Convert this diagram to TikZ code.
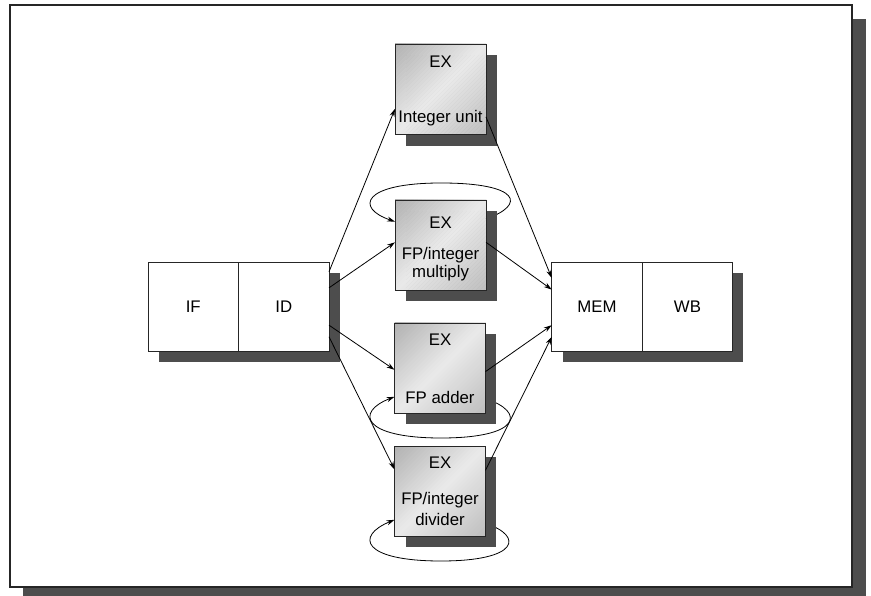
\documentclass[tikz,border=0pt]{standalone}
\usepackage{fontspec}
\setmainfont{Liberation Sans}
\usetikzlibrary{arrows.meta,calc}
\definecolor{shadowgray}{HTML}{4D4D4D}
\definecolor{exdark}{HTML}{B0B0B0}
\definecolor{exdarkb}{HTML}{BEBEBE}
\definecolor{exlight}{HTML}{EAEAEA}
\newcommand\exgrad[1]{%
  \begin{scope}
  \clip (#1.north west) rectangle (#1.south east);
  \foreach \k in {-23,...,22}{%
    \pgfmathsetmacro\uA{2*\k}%
    \pgfmathsetmacro\uB{2*\k+2.3}%
    \pgfmathsetmacro\m{int(100*(1-abs(\k+0.5)/23))}%
    \ifnum\k<0 \def\cc{exlight!\m!exdark}\else\def\cc{exlight!\m!exdarkb}\fi
    \fill[color=\cc] ($(#1.center)+(\uA+100,\uA-100)$) -- ($(#1.center)+(\uA-100,\uA+100)$)
       -- ($(#1.center)+(\uB-100,\uB+100)$) -- ($(#1.center)+(\uB+100,\uB-100)$) -- cycle;
  }
  \end{scope}
  \draw[black!85,line width=0.9pt] (#1.north west) rectangle (#1.south east);}
\begin{document}
\begin{tikzpicture}[x=1pt,y=-1pt,
  stage/.style={draw=black!85,line width=0.9pt,fill=white,minimum width=90.5pt,minimum height=89pt,inner sep=0pt,outer sep=0pt},
  exbox/.style={draw=none,minimum width=91pt,minimum height=90pt,inner sep=0pt,outer sep=0pt},
  lbl/.style={font=\fontsize{16.8}{19}\selectfont,inner sep=0pt,anchor=center},
  conn/.style={line width=0.8pt,-{Stealth[length=8pt,width=5pt]}},
  loop/.style={line width=0.8pt,-{Stealth[length=8pt,width=5pt]}}
]
\useasboundingbox (0,0) rectangle (871,596);
% frame
\fill[shadowgray] (23,19) rectangle (866,596);
\draw[fill=white,line width=1.6pt,draw=black!85] (10,5) rectangle (852,587);

% shadows
\fill[shadowgray] (406,55) rectangle (497,146);
\fill[shadowgray] (406,211) rectangle (497,301);
\fill[shadowgray] (406,334) rectangle (496,424);
\fill[shadowgray] (406,457) rectangle (496,547);
\fill[shadowgray] (159,273) rectangle (340,362);
\fill[shadowgray] (563,273) rectangle (743,362);

% stages
\node[stage] (IF) at (193.25,306.5) {};
\node[stage] (ID) at (283.75,306.5) {};
\node[stage] (MEM) at (597,306.5) {};
\node[stage] (WB) at (687.5,306.5) {};
\node[lbl] (tIF) at (IF) {IF};
\node[lbl] (tID) at (ID) {ID};
\node[lbl] (tMEM) at (MEM) {MEM};
\node[lbl] (tWB) at (WB) {WB};

% EX boxes
\node[exbox] (EXi) at (440.5,89) {};
\node[exbox] (EXm) at (440.5,245) {};
\node[exbox] (EXa) at (440,368) {};
\node[exbox] (EXd) at (440,491) {};
\exgrad{EXi}
\exgrad{EXm}
\exgrad{EXa}
\exgrad{EXd}

\node[lbl] (tEXi) at (440.5,62) {EX};
\node[lbl] (tIU) at (440.5,118) {Integer unit};
\node[lbl] (tEXm) at (440.5,223) {EX};
\node[lbl] (tM1) at (440.5,255) {FP/integer};
\node[lbl] (tM2) at (440.5,273) {multiply};
\node[lbl] (tEXa) at (440,340) {EX};
\node[lbl] (tA1) at (440,397) {FP adder};
\node[lbl] (tEXd) at (440,463) {EX};
\node[lbl] (tD1) at (440,500) {FP/integer};
\node[lbl] (tD2) at (440,519) {divider};

% loops
\draw[loop] ($(EXm.north east)!0.21!(EXm.south east)$) .. controls (526,205) and (521,183) .. (441,183)
   .. controls (362,183) and (355,208) .. ($(EXm.north west)!0.24!(EXm.south west)$);
\draw[loop] ($(EXa.north east)!0.84!(EXa.south east)$) .. controls (526,412) and (521,438) .. (441,438)
   .. controls (362,438) and (355,412) .. ($(EXa.north west)!0.82!(EXa.south west)$);
\draw[loop] ($(EXd.north east)!0.86!(EXd.south east)$) .. controls (524,536) and (519,561) .. (441,561)
   .. controls (362,561) and (355,536) .. ($(EXd.north west)!0.82!(EXd.south west)$);
% redraw shadows over loop starts
\fill[shadowgray] (487,211) rectangle (497,301);
\fill[shadowgray] (486,334) rectangle (496,424);
\fill[shadowgray] (486,457) rectangle (496,547);
\draw[black!85,line width=0.9pt] (EXm.north east) -- (EXm.south east);
\draw[black!85,line width=0.9pt] (EXa.north east) -- (EXa.south east);
\draw[black!85,line width=0.9pt] (EXd.north east) -- (EXd.south east);

% connectors ID -> EX
\draw[conn] ($(ID.north east)!0.11!(ID.south east)$) -- ($(EXi.north west)!0.72!(EXi.south west)$);
\draw[conn] ($(ID.north east)!0.29!(ID.south east)$) -- ($(EXm.north west)!0.47!(EXm.south west)$);
\draw[conn] ($(ID.north east)!0.71!(ID.south east)$) -- ($(EXa.north west)!0.52!(EXa.south west)$);
\draw[conn] ($(ID.north east)!0.84!(ID.south east)$) -- ($(EXd.north west)!0.26!(EXd.south west)$);
% connectors EX -> MEM
\draw[conn] ($(EXi.north east)!0.81!(EXi.south east)$) -- ($(MEM.north west)!0.18!(MEM.south west)$);
\draw[conn] ($(EXm.north east)!0.47!(EXm.south east)$) -- ($(MEM.north west)!0.31!(MEM.south west)$);
\draw[conn] ($(EXa.north east)!0.54!(EXa.south east)$) -- ($(MEM.north west)!0.71!(MEM.south west)$);
\draw[conn] ($(EXd.north east)!0.27!(EXd.south east)$) -- ($(MEM.north west)!0.84!(MEM.south west)$);
\end{tikzpicture}
\end{document}
